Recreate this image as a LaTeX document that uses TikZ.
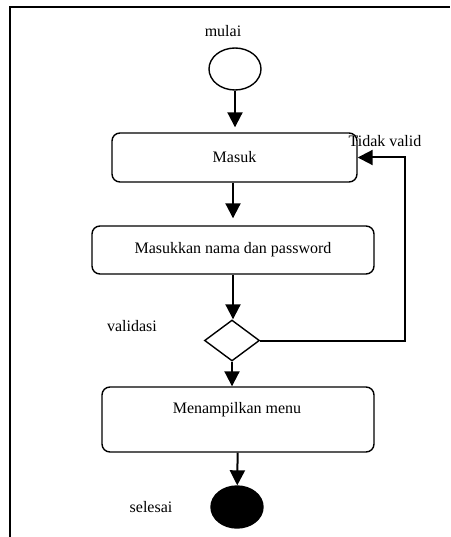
\documentclass[tikz,border=0pt]{standalone}
\usepackage{fontspec}
\setmainfont{Liberation Serif}
\usetikzlibrary{arrows.meta,shapes.geometric}
\tikzset{
  aksi/.style={draw, line width=1.4pt, rounded corners=8pt, inner sep=0pt},
  panah/.style={line width=2pt, -{Triangle[width=15pt,length=15pt]}},
}
\begin{document}
\begin{tikzpicture}[x=1pt, y=-1pt, font=\fontsize{16}{19}\selectfont]
\useasboundingbox (0,0) rectangle (450,537);
\coordinate (bingkaiA) at (10,537);
\coordinate (bingkaiB) at (10,7);
\coordinate (bingkaiC) at (450,7);
\draw[line width=2.4pt] (bingkaiA) -- (bingkaiB) -- (bingkaiC);

\node (mulaitxt) at (223,31) {mulai};
\node[draw, ellipse, line width=1.4pt, minimum width=52pt, minimum height=42pt, inner sep=0pt] (mulai) at (235,69) {};
\node[aksi, minimum width=245pt, minimum height=49pt] (masuk) at (234.5,157.5) {Masuk};
\node (tidak) at (385,141) {Tidak valid};
\node[aksi, minimum width=282pt, minimum height=48pt] (isi) at (233,250) {Masukkan nama dan password};
\node (valtxt) at (132,326) {validasi};
\node[draw, diamond, aspect=1.35, line width=1.4pt, minimum width=55pt, minimum height=41pt, inner sep=0pt] (validasi) at (232,340.5) {};
\node[aksi, minimum width=272pt, minimum height=65pt] (menu) at (238,419.5) {};
\node (menutxt) at (237,410) {Menampilkan menu};
\node (selesaitxt) at (151,507) {selesai};
\node[draw, ellipse, fill=black, line width=1.4pt, minimum width=52pt, minimum height=42pt, inner sep=0pt] (selesai) at (237,507) {};
\coordinate (belok) at (405,340.5);

\path[draw,panah,shorten >=5pt] (mulai) -- (mulai |- masuk.north);
\path[draw,panah,shorten >=7pt] (masuk.south -| isi) -- (isi.north);
\path[draw,panah] (isi) -- (isi |- validasi.north);
\path[draw,panah] (validasi) -- (validasi |- menu.north);
\path[draw,panah] (menu) -- (selesai);
\path[draw,line width=2pt,-{Triangle[width=15pt,length=15pt]}] (validasi.east) -- (belok) |- (masuk.east);
\end{tikzpicture}
\end{document}
